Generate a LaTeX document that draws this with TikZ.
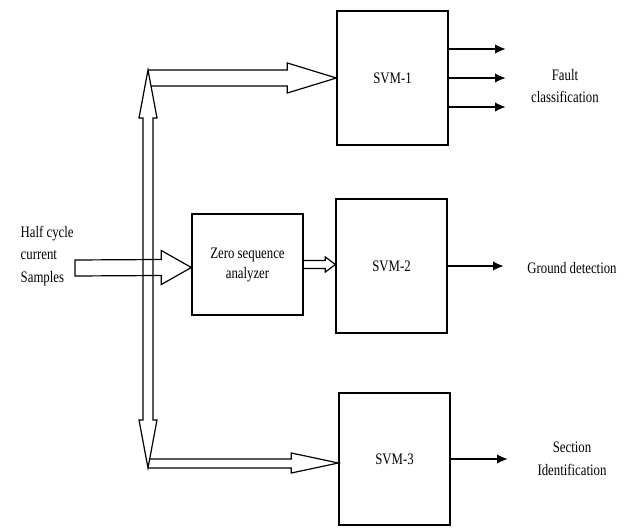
\documentclass[tikz,border=0pt]{standalone}
\usepackage{fontspec}
\setmainfont{Liberation Serif}[FakeStretch=0.8]
\usetikzlibrary{calc,arrows.meta}

\tikzset{
  svmbox/.style={draw, line width=1pt, minimum width=83.25pt, minimum height=100.5pt, inner sep=0pt},
  hollow/.style={draw, line width=0.9pt, line join=miter},
  outarrow/.style={line width=0.9pt, -{Latex[length=8pt,width=7pt]}},
  lbl/.style={align=center, font=\fontsize{12}{17}\selectfont}
}

\begin{document}
\begin{tikzpicture}[x=0.75pt, y=-0.75pt, every node/.style={font=\fontsize{12}{17}\selectfont}]
\useasboundingbox (0,0) rectangle (629,528);
% blocks
\node[svmbox] (svm1) at (392.5,78) {SVM-1};
\node[svmbox] (svm2) at (391.5,266) {SVM-2};
\node[svmbox, minimum height=99pt] (svm3) at (394.5,459) {SVM-3};
\node[svmbox, minimum height=75.75pt, align=center, font=\fontsize{12}{15}\selectfont] (zsa) at (247.5,264.5) {Zero sequence\\analyzer};
% input
\node[lbl, align=left, anchor=west] (inp) at (16,256) {Half cycle\\current\\Samples};
\coordinate (in) at (75,268);
\coordinate (tip0) at ($(zsa.west)+(0,3)$);
\draw[hollow] ($(in)+(0,-8)$) -- ($(tip0)+(-30,-8)$) -- ($(tip0)+(-30,-17)$) -- (tip0)
  -- ($(tip0)+(-30,17)$) -- ($(tip0)+(-30,8)$) -- ($(in)+(0,8)$) -- cycle;
% split bus
\coordinate (vt) at (148,70);
\coordinate (vb) at (148,468);
\draw[hollow] (vt) -- ($(vt)+(9,48)$) -- ($(vt)+(5,48)$) -- ($(vb)+(5,-48)$) -- ($(vb)+(9,-48)$) -- (vb)
  -- ($(vb)+(-9,-48)$) -- ($(vb)+(-5,-48)$) -- ($(vt)+(-5,48)$) -- ($(vt)+(-9,48)$) -- cycle;
\draw[hollow] (vt) -- ($(svm1.west)+(-49,-8)$) -- ($(svm1.west)+(-49,-15)$) -- (svm1.west)
  -- ($(svm1.west)+(-49,15)$) -- ($(svm1.west)+(-49,8)$) -- ($(vt)+(3,16)$);
\coordinate (t3) at ($(svm3.west)+(0,4)$);
\draw[hollow] (vb) -- ($(t3)+(-47,5)$) -- ($(t3)+(-47,10)$) -- (t3)
  -- ($(t3)+(-47,-10)$) -- ($(t3)+(-47,-4)$) -- ($(vb)+(2,-9)$);
% analyzer to SVM-2
\coordinate (t2) at (svm2.west |- zsa.east);
\draw[hollow] ($(zsa.east)+(0,-4)$) -- ($(t2)+(-10,-4)$) -- ($(t2)+(-10,-7.5)$) -- (t2)
  -- ($(t2)+(-10,7.5)$) -- ($(t2)+(-10,4)$) -- ($(zsa.east)+(0,4)$);
% outputs
\foreach \dy in {-29,0,29}
  \draw[outarrow] ($(svm1.east)+(0,\dy)$) -- ++(57,0);
\draw[outarrow] (svm2.east) -- ++(56,0);
\draw[outarrow] (svm3.east) -- ++(57,0);
\node[lbl] (fault) at (565,86) {Fault\\classification};
\node[lbl] (ground) at (572,268) {Ground detection};
\node[lbl] (section) at (572,459) {Section\\Identification};
\end{tikzpicture}
\end{document}
